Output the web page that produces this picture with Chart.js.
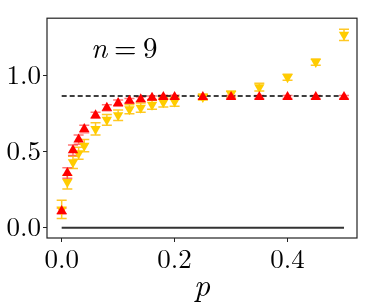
<!DOCTYPE html>
<html>
<head>
<meta charset="utf-8">
<script src="https://cdn.jsdelivr.net/npm/chart.js@4"></script>
<style>
  html, body { margin: 0; padding: 0; background: #fff; }
  #wrap { width: 365px; height: 307px; }
</style>
</head>
<body>
<div id="wrap"><canvas id="chartContainer" width="365" height="307"></canvas></div>
<script>
// p values on the x axis
const pValues = [0, 0.01, 0.02, 0.03, 0.04, 0.06, 0.08, 0.10, 0.12, 0.14, 0.16, 0.18, 0.20, 0.25, 0.30, 0.35, 0.40, 0.45, 0.50];

// red (upward triangles)
const redValues = [0.11, 0.36, 0.51, 0.58, 0.65, 0.74, 0.79, 0.82, 0.835, 0.845, 0.855, 0.86, 0.86, 0.86, 0.86, 0.86, 0.86, 0.86, 0.86];
const redErrors = [0.02, 0.035, 0.035, 0.03, 0.025, 0.02, 0.02, 0.02, 0.015, 0.015, 0.012, 0.012, 0.012, 0.012, 0.01, 0.01, 0.01, 0.01, 0.01];

// yellow (downward triangles)
const yellowValues = [0.12, 0.30, 0.43, 0.49, 0.54, 0.65, 0.71, 0.74, 0.78, 0.79, 0.81, 0.825, 0.83, 0.86, 0.88, 0.925, 0.99, 1.09, 1.27];
const yellowErrors = [0.06, 0.045, 0.04, 0.04, 0.04, 0.04, 0.035, 0.035, 0.03, 0.03, 0.03, 0.03, 0.03, 0.02, 0.02, 0.025, 0.02, 0.02, 0.037];

// reference lines
const plateau = 0.866;
const lineRange = [0, 0.5];

const xTicks = [0, 0.2, 0.4];
const yTicks = [0, 0.5, 1.0];

const serif = "'Latin Modern Roman', 'Liberation Serif', serif";

const toPoints = (ys) => pValues.map((p, i) => ({ x: p, y: ys[i] }));

// error bars drawn under the markers, frame and n label on top
const errorBars = {
  id: "errorBars",
  beforeDatasetsDraw(chart) {
    const ctx = chart.ctx;
    const xs = chart.scales.x, ys = chart.scales.y;
    const sets = [
      { vals: yellowValues, errs: yellowErrors, color: "rgba(255,190,0,0.85)" },
      { vals: redValues, errs: redErrors, color: "rgba(255,60,60,0.7)" },
    ];
    ctx.save();
    ctx.lineWidth = 1.5;
    sets.forEach((s) => {
      ctx.strokeStyle = s.color;
      pValues.forEach((p, i) => {
        const x = xs.getPixelForValue(p);
        const y1 = ys.getPixelForValue(s.vals[i] - s.errs[i]);
        const y2 = ys.getPixelForValue(s.vals[i] + s.errs[i]);
        ctx.beginPath();
        ctx.moveTo(x, y1); ctx.lineTo(x, y2);
        ctx.moveTo(x - 5, y1); ctx.lineTo(x + 5, y1);
        ctx.moveTo(x - 5, y2); ctx.lineTo(x + 5, y2);
        ctx.stroke();
      });
    });
    ctx.restore();
  },
  afterDraw(chart) {
    const ctx = chart.ctx;
    const a = chart.chartArea;
    ctx.save();
    ctx.strokeStyle = "#222";
    ctx.lineWidth = 1.2;
    ctx.strokeRect(a.left, a.top, a.right - a.left, a.bottom - a.top);
    ctx.fillStyle = "#000";
    ctx.textAlign = "left";
    ctx.textBaseline = "alphabetic";
    ctx.font = "italic 29px " + serif;
    ctx.fillText("n", 91, 58);
    ctx.font = "29px " + serif;
    ctx.fillText("=", 114, 58);
    ctx.fillText("9", 143, 58);
    ctx.restore();
  },
};

const config = {
  type: "scatter",
  data: {
    datasets: [
      {
        label: "red",
        data: toPoints(redValues),
        pointStyle: "triangle",
        pointRadius: 6,
        backgroundColor: "#ff0000",
        borderColor: "#ff0000",
        borderWidth: 0,
      },
      {
        label: "yellow",
        data: toPoints(yellowValues),
        pointStyle: "triangle",
        rotation: 180,
        pointRadius: 6,
        backgroundColor: "#ffcc00",
        borderColor: "#ffcc00",
        borderWidth: 0,
      },
      {
        label: "plateau",
        data: lineRange.map((x) => ({ x: x, y: plateau })),
        showLine: true,
        pointRadius: 0,
        borderColor: "#000",
        borderWidth: 1.5,
        borderDash: [5, 3],
      },
      {
        label: "zero",
        data: lineRange.map((x) => ({ x: x, y: 0 })),
        showLine: true,
        pointRadius: 0,
        borderColor: "#333",
        borderWidth: 2,
      },
    ],
  },
  options: {
    responsive: false,
    animation: false,
    layout: { padding: { top: 5, right: 8, left: 0, bottom: 0 } },
    plugins: { legend: { display: false }, tooltip: { enabled: false } },
    scales: {
      x: {
        type: "linear",
        min: -0.026,
        max: 0.523,
        afterBuildTicks: (axis) => { axis.ticks = xTicks.map((v) => ({ value: v })); },
        afterFit: (axis) => { axis.height = 69; },
        grid: { drawOnChartArea: false, tickLength: 4, color: "#222" },
        border: { display: false },
        ticks: {
          color: "#000",
          padding: 2,
          maxRotation: 0,
          font: { family: serif, size: 27 },
          callback: (v) => v.toFixed(1),
        },
        title: {
          display: true,
          text: "p",
          color: "#000",
          padding: { top: 0, bottom: 2 },
          font: { family: serif, size: 32, style: "italic" },
        },
      },
      y: {
        type: "linear",
        min: -0.068,
        max: 1.379,
        afterBuildTicks: (axis) => { axis.ticks = yTicks.map((v) => ({ value: v })); },
        afterFit: (axis) => { axis.width = 47; },
        grid: { drawOnChartArea: false, tickLength: 4, color: "#222" },
        border: { display: false },
        ticks: {
          color: "#000",
          padding: 2,
          font: { family: serif, size: 27 },
          callback: (v) => v.toFixed(1),
        },
      },
    },
  },
  plugins: [errorBars],
};

const ctx = document.getElementById("chartContainer").getContext("2d");
const chart = new Chart(ctx, config);
</script>
</body>
</html>
